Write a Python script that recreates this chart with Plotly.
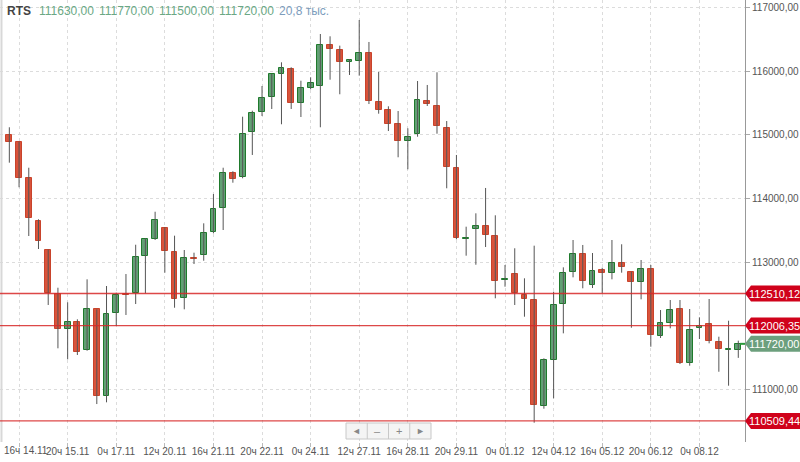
import plotly.graph_objects as go

# ---- data ----
opens = [115000,114884,114319,113653,113193,112502,111948,112063,111628,112262,
         110906,112204,112502,112513,113099,113366,113543,113157,112435,113063,
         113110,113471,113848,114407,114335,115041,115355,115600,115961,116030,
         115496,115741,115773,116412,116328,116149,116160,116286,115521,115391,
         115171,114900,115010,115537,115459,115113,114476,113366,113518,113565,
         113418,112722,112812,112487,112408,110749,111471,112350,112848,113126,
         112639,112874,112827,112984,112843,112695,112890,111848,112047,112262,
         111424,111964,112027,111744,111628,111630]
highs = [115120,114893,114485,113675,113200,112601,112372,112105,112733,112262,
         112628,112523,112816,113276,113377,113794,113550,113418,113193,113151,
         113612,114072,114485,114429,115286,115380,115768,115960,116140,116062,
         115851,115905,116584,116548,116401,116190,116804,116459,115988,115449,
         115375,115104,115846,115784,115983,115218,114685,113559,113769,114167,
         113738,112958,113220,112749,113261,111493,112538,112921,113350,113272,
         113146,112915,113350,113283,112850,113036,112958,112251,112408,112408,
         112267,112136,112424,111832,112083,111770]
lows = [114564,114178,113413,113209,112330,111650,111477,111545,111612,110775,
        110802,112000,112173,112345,112513,113350,112837,112287,112262,112973,
        113025,113455,113507,114250,114319,114685,115297,115407,115167,115407,
        115281,115716,115120,115867,115638,115941,115930,115485,115333,115061,
        114649,114460,114972,115454,115019,114162,113361,113104,112962,113240,
        112435,112617,112330,112146,110482,110702,110865,111885,112764,112592,
        112596,112513,112733,112837,111973,112419,111675,111812,111964,111403,
        111377,111796,111728,111282,111063,111500]
closes = [114893,114319,113691,113334,112513,111948,112058,111587,112262,110906,
          112188,112482,112490,113088,113361,113659,113173,112419,113072,113050,
          113455,113832,114407,114303,115010,115339,115575,115952,116046,115496,
          115732,115810,116412,116349,116145,116181,116286,115528,115396,115176,
          114900,114972,115548,115485,115140,114492,113386,113380,113565,113424,
          112706,112740,112513,112429,110764,111461,112325,112827,113126,112711,
          112868,112837,112984,112921,112695,112895,111859,112042,112251,111424,
          111937,112000,111769,111634,111640,111720]

tick_idx = [1, 6, 11, 16, 21, 26, 31, 36, 41, 46, 51, 56, 61, 66, 71]
tick_labels = ["16ч 14.11", "20ч 15.11", "0ч 17.11", "12ч 20.11", "16ч 21.11",
               "20ч 22.11", "0ч 24.11", "12ч 27.11", "16ч 28.11", "20ч 29.11",
               "0ч 01.12", "12ч 04.12", "16ч 05.12", "20ч 06.12", "0ч 08.12"]
y_ticks = [111000, 113000, 114000, 115000, 116000, 117000]
level_lines = [112510.12, 112006.35, 110509.44]
volume_text = "20,8 тыс."
ticker = "RTS"

# ---- styling ----
FONT = "Liberation Sans, Arial, sans-serif"
UP_FILL, UP_LINE = "#62a074", "#1f7a2c"
DN_FILL, DN_LINE = "#d9533b", "#c8432b"
WICK = "#555555"
Y_MIN, Y_MAX = 110179, 117118
X_MIN, X_MAX = -0.96, 75.69

def fmt(v):
    return f"{v:.2f}".replace(".", ",")

n = len(opens)
xs = list(range(n))

# wicks
wx, wy = [], []
for i in xs:
    wx += [i, i, None]
    wy += [lows[i], highs[i], None]

fig = go.Figure()
fig.add_trace(go.Scatter(x=wx, y=wy, mode="lines",
                         line=dict(color=WICK, width=1), hoverinfo="skip",
                         showlegend=False))

colors = [UP_FILL if closes[i] >= opens[i] else DN_FILL for i in xs]
lcolors = [UP_LINE if closes[i] >= opens[i] else DN_LINE for i in xs]
heights = []
for i in xs:
    d = closes[i] - opens[i]
    if abs(d) < 15:
        d = 15 if d >= 0 else -15
    heights.append(d)
fig.add_trace(go.Bar(x=xs, y=heights, base=opens, width=0.6,
                     marker=dict(color=colors, line=dict(color=lcolors, width=1)),
                     showlegend=False, hoverinfo="skip"))

def py(v):
    return (v - Y_MIN) / (Y_MAX - Y_MIN)

shapes = []
annotations = []

# left border
shapes.append(dict(type="line", xref="paper", yref="paper", x0=0.002, x1=0.002,
                   y0=0, y1=1, line=dict(color="#d8d8d8", width=2)))

# level lines and tags
PX = 745.0
half = 8.0 / 442.0
for v in level_lines:
    shapes.append(dict(type="line", xref="paper", yref="paper", x0=0, x1=1,
                       y0=py(v), y1=py(v), line=dict(color="rgba(215,40,40,0.85)", width=1.3)))
    yc = py(v)
    shapes.append(dict(type="path", xref="paper", yref="paper",
                       path=f"M 1.0,{yc} L {751/PX},{yc+half} L {800/PX},{yc+half} "
                            f"L {800/PX},{yc-half} L {751/PX},{yc-half} Z",
                       fillcolor="#d0021b", line=dict(width=0)))
    annotations.append(dict(xref="paper", yref="paper", x=774/PX, y=yc,
                            text=fmt(v), showarrow=False, xanchor="center", yanchor="middle",
                            font=dict(family=FONT, size=11, color="white")))

# last price tag
last = closes[-1]
yc = py(last)
shapes.append(dict(type="line", xref="paper", yref="paper", x0=740/PX, x1=1.0,
                   y0=yc, y1=yc, line=dict(color="#2a9a3a", width=2)))
shapes.append(dict(type="path", xref="paper", yref="paper",
                   path=f"M 1.0,{yc} L {751/PX},{yc+half} L {800/PX},{yc+half} "
                        f"L {800/PX},{yc-half} L {751/PX},{yc-half} Z",
                   fillcolor="#6c9f7d", line=dict(width=0)))
annotations.append(dict(xref="paper", yref="paper", x=774/PX, y=yc,
                        text=fmt(last), showarrow=False, xanchor="center", yanchor="middle",
                        font=dict(family=FONT, size=11, color="white")))

# header
hy = 1 - 11.0 / 442.0
annotations.append(dict(xref="paper", yref="paper", x=5/PX, y=hy, text=f"<b>{ticker}</b>",
                        showarrow=False, xanchor="left", yanchor="middle",
                        font=dict(family=FONT, size=12, color="#444444")))
hx = [37, 97, 157, 217]
for xpos, val in zip(hx, [opens[-1], highs[-1], lows[-1], closes[-1]]):
    annotations.append(dict(xref="paper", yref="paper", x=xpos/PX, y=hy, text=fmt(val),
                            showarrow=False, xanchor="left", yanchor="middle",
                            font=dict(family=FONT, size=12, color="#6aa885")))
annotations.append(dict(xref="paper", yref="paper", x=277/PX, y=hy, text=volume_text,
                        showarrow=False, xanchor="left", yanchor="middle",
                        font=dict(family=FONT, size=12, color="#7c9cbc")))

# navigation buttons
bx0, bx1, by0, by1 = 346, 431, 423, 439
def ppy(p):
    return (442 - p) / 442.0
shapes.append(dict(type="rect", xref="paper", yref="paper", x0=bx0/PX, x1=bx1/PX,
                   y0=ppy(by1), y1=ppy(by0), fillcolor="#f4f4f4",
                   line=dict(color="#c8c8c8", width=1)))
cells = [bx0 + (bx1 - bx0) * k / 4 for k in range(5)]
for c in cells[1:4]:
    shapes.append(dict(type="line", xref="paper", yref="paper", x0=c/PX, x1=c/PX,
                       y0=ppy(by1), y1=ppy(by0), line=dict(color="#c8c8c8", width=1)))
for k, g in enumerate(["◄", "–", "+", "►"]):
    cx = (cells[k] + cells[k+1]) / 2
    annotations.append(dict(xref="paper", yref="paper", x=cx/PX, y=ppy((by0+by1)/2),
                            text=g, showarrow=False, xanchor="center", yanchor="middle",
                            font=dict(family=FONT, size=9 if k in (0, 3) else 11, color="#888888")))

# first tick label is left-aligned at the chart edge (as in the reference)
shown_labels = [""] + tick_labels[1:]
annotations.append(dict(xref="paper", yref="paper", x=2/PX, y=ppy(450.5),
                        text=tick_labels[0], showarrow=False, xanchor="left", yanchor="middle",
                        font=dict(family=FONT, size=10, color="#555555")))

fig.update_layout(
    width=800, height=462,
    margin=dict(l=0, r=55, t=0, b=20),
    paper_bgcolor="white", plot_bgcolor="white",
    shapes=shapes, annotations=annotations,
    bargap=0, showlegend=False,
    xaxis=dict(range=[X_MIN, X_MAX], tickvals=tick_idx, ticktext=shown_labels,
               tickangle=0,
               showgrid=True, gridcolor="#dcdcdc", griddash="dot", gridwidth=1,
               ticks="outside", ticklen=4, tickcolor="#bbbbbb",
               ticklabelstandoff=-4, ticklabeloverflow="allow",
               tickfont=dict(family=FONT, size=10, color="#555555"),
               showline=False, zeroline=False, fixedrange=True, automargin=False),
    yaxis=dict(range=[Y_MIN, Y_MAX], side="right", tickvals=y_ticks,
               ticktext=[fmt(v) for v in y_ticks],
               showgrid=True, gridcolor="#dcdcdc", griddash="dot", gridwidth=1,
               ticks="outside", ticklen=4, tickcolor="#aaaaaa",
               tickfont=dict(family=FONT, size=10, color="#555555"),
               showline=True, linecolor="#999999", linewidth=1,
               zeroline=False, fixedrange=True, automargin=False),
)

fig.write_html("out.html", config={"displayModeBar": False},
               post_script="document.body.style.margin='0';document.body.style.overflow='hidden';")
